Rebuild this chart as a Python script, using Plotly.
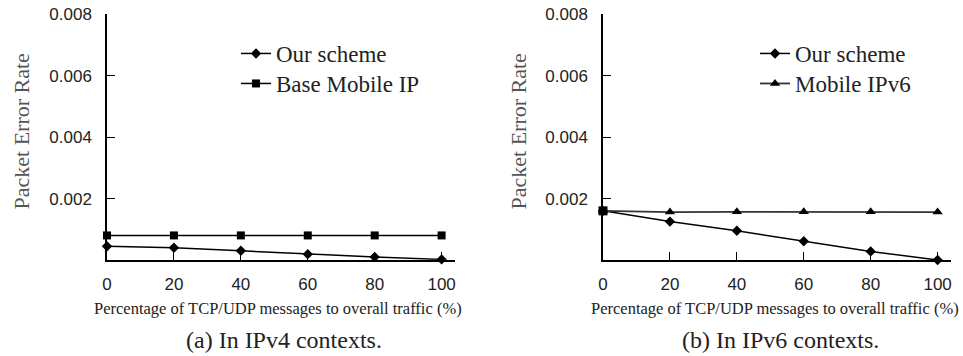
import plotly.graph_objects as go

# ---- data ----
traffic_pct = [0, 20, 40, 60, 80, 100]
ipv4_our_scheme = [0.00045, 0.00040, 0.00030, 0.00019, 0.00010, 0.00002]
ipv4_base_mobile_ip = [0.00080, 0.00080, 0.00080, 0.00080, 0.00080, 0.00080]
ipv6_our_scheme = [0.00160, 0.00125, 0.00095, 0.00061, 0.00028, 0.00000]
ipv6_mobile_ipv6 = [0.00160, 0.00156, 0.00157, 0.00157, 0.00157, 0.00156]

y_tick_vals = [0.002, 0.004, 0.006, 0.008]
y_tick_text = ["0.002", "0.004", "0.006", "0.008"]
x_tick_vals = [0, 20, 40, 60, 80, 100]
x_tick_text = ["0", "20", "40", "60", "80", "100"]

names_a = ["Our scheme", "Base Mobile IP"]
names_b = ["Our scheme", "Mobile IPv6"]
x_title = "Percentage of TCP/UDP messages to overall traffic (%)"
y_title = "Packet Error Rate"
captions = ["(a) In IPv4 contexts.", "(b) In IPv6 contexts."]

W, H = 963, 356
SERIF = "Liberation Serif, Times New Roman, serif"
SANS = "Liberation Sans, Arial, sans-serif"


def px(sx):
    return sx / W


def py(sy):
    return 1 - sy / H


fig = go.Figure()

fig.add_trace(go.Scatter(x=traffic_pct, y=ipv4_our_scheme, name=names_a[0], mode="lines+markers",
                         line=dict(color="black", width=1.5), marker=dict(symbol="diamond", size=8, color="black"),
                         xaxis="x", yaxis="y", legend="legend", cliponaxis=False))
fig.add_trace(go.Scatter(x=traffic_pct, y=ipv4_base_mobile_ip, name=names_a[1], mode="lines+markers",
                         line=dict(color="black", width=1.5), marker=dict(symbol="square", size=8, color="black"),
                         xaxis="x", yaxis="y", legend="legend2", cliponaxis=False))
fig.add_trace(go.Scatter(x=traffic_pct, y=ipv6_our_scheme, name=names_b[0], mode="lines+markers",
                         line=dict(color="black", width=1.5), marker=dict(symbol="diamond", size=8, color="black"),
                         xaxis="x2", yaxis="y2", legend="legend3", cliponaxis=False))
fig.add_trace(go.Scatter(x=traffic_pct, y=ipv6_mobile_ipv6, name=names_b[1], mode="lines+markers",
                         line=dict(color="#333333", width=1.8), marker=dict(symbol="triangle-up", size=9, color="black"),
                         xaxis="x2", yaxis="y2", legend="legend4", cliponaxis=False))
# square marker drawn at the shared starting point in panel (b)
fig.add_trace(go.Scatter(x=traffic_pct[:1], y=ipv6_mobile_ipv6[:1], mode="markers", showlegend=False,
                         marker=dict(symbol="square", size=9, color="black"),
                         xaxis="x2", yaxis="y2", cliponaxis=False, hoverinfo="skip"))

xaxis_common = dict(range=[0, 104], tickvals=x_tick_vals, ticktext=x_tick_text, ticks="inside", ticklen=8,
                    tickcolor="black", showline=True, linecolor="black", linewidth=1.5, showgrid=False,
                    zeroline=False, automargin=False, ticklabelstandoff=8, ticklabeloverflow="allow",
                    tickfont=dict(family=SANS, size=17, color="#222222"))
yaxis_common = dict(range=[0, 0.00801], tickvals=y_tick_vals, ticktext=y_tick_text, ticks="inside", ticklen=8,
                    tickcolor="black", showline=True, linecolor="black", linewidth=1.5, showgrid=False,
                    zeroline=False, automargin=False, ticklabelstandoff=10, ticklabeloverflow="allow",
                    tickfont=dict(family=SANS, size=17, color="#222222"),
                    domain=[py(260), py(14)])


def leg(sx, sy):
    return dict(x=px(sx), y=py(sy), xanchor="left", yanchor="top", bgcolor="rgba(0,0,0,0)",
                font=dict(family=SERIF, size=23, color="#222222"))


fig.update_layout(
    width=W, height=H,
    margin=dict(l=0, r=0, t=0, b=0),
    paper_bgcolor="white", plot_bgcolor="white",
    xaxis=dict(domain=[px(107), px(455)], anchor="y", **xaxis_common),
    yaxis=dict(anchor="x", **yaxis_common),
    xaxis2=dict(domain=[px(603), px(951)], anchor="y2", **xaxis_common),
    yaxis2=dict(anchor="x2", **yaxis_common),
    legend=leg(236, 32),
    legend2=leg(236, 62),
    legend3=leg(755, 32),
    legend4=leg(755, 62),
    showlegend=True,
)

ann = []
for i, (cx_title, cx_cap, cx_y) in enumerate([(277.5, 283.5, 21), (775, 780.5, 518)]):
    ann.append(dict(text=x_title, x=px(cx_title), y=py(308), xref="paper", yref="paper",
                    xanchor="center", yanchor="middle", showarrow=False,
                    font=dict(family=SERIF, size=16.5, color="#222222")))
    ann.append(dict(text=captions[i], x=px(cx_cap), y=py(340),
                    xref="paper", yref="paper", xanchor="center", yanchor="middle", showarrow=False,
                    font=dict(family=SERIF, size=24, color="#222222")))
    ann.append(dict(text=y_title, x=px(cx_y), y=py(131.5), xref="paper", yref="paper",
                    xanchor="center", yanchor="middle", showarrow=False, textangle=-90,
                    font=dict(family=SERIF, size=22, color="#555555")))
fig.update_layout(annotations=ann)

fig.write_html("out.html", config={"displayModeBar": False},
               post_script="document.body.style.margin='0px';")
